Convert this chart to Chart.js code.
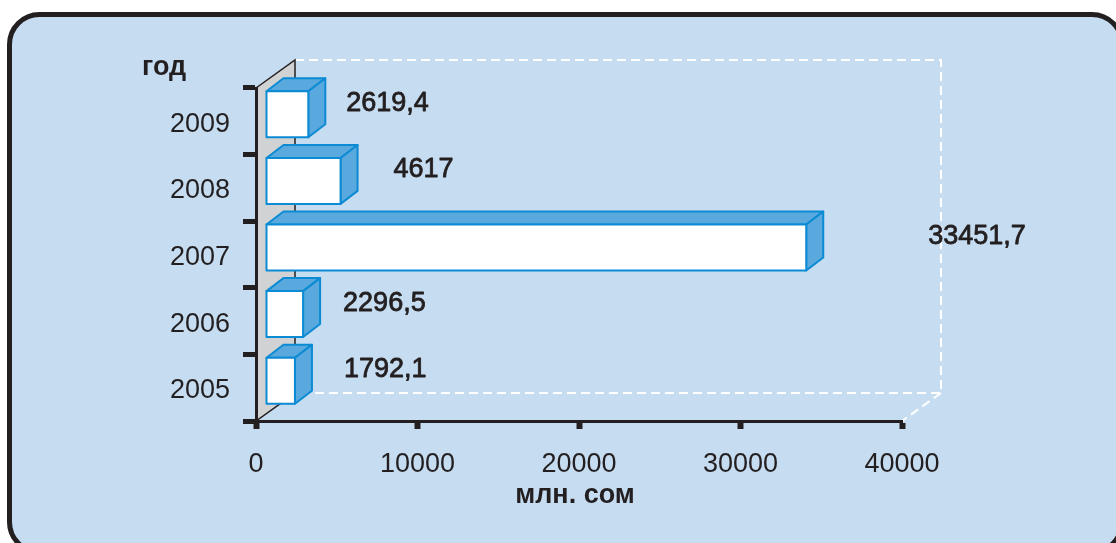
<!DOCTYPE html>
<html><head><meta charset="utf-8">
<script src="https://cdn.jsdelivr.net/npm/chart.js@4"></script>
<style>html,body{margin:0;padding:0;background:#fff;overflow:hidden}#wrap{width:1116px;height:543px;position:relative}canvas{display:block}</style>
</head><body><div id="wrap"><canvas id="c" width="1116" height="543" style="width:1116px;height:543px"></canvas></div>
<script>
// ---- data ----
const years = ['2005', '2006', '2007', '2008', '2009'];
const values = [1792.1, 2296.5, 33451.7, 4617, 2619.4];
const xTickMin = 0;
const xTickMax = 40000;
const xTickStep = 10000;
const yTitle = 'год';
const xTitle = 'млн. сом';

// ---- style ----
const INK = '#231f20';
const PANEL_FILL = '#c6dcf0';
const WALL_FILL = '#d1d2d4';
const BAR_EDGE = '#0b8bd3';
const BAR_SIDE = '#5aa9de';
const FONT = "'Liberation Sans', Arial, sans-serif";
const WALL = { dx: 39, dy: -28 };
const BAR_FRONT = { dx: 10, dy: -7 };
const BAR_DEPTH = { dx: 17, dy: -13 };
const LABEL_GAP = [32, 23, 105, 36, 21];

function poly(ctx, pts) {
  ctx.beginPath();
  ctx.moveTo(pts[0][0], pts[0][1]);
  for (let i = 1; i < pts.length; i++) ctx.lineTo(pts[i][0], pts[i][1]);
  ctx.closePath();
}

const scene = {
  id: 'scene',
  beforeDraw(chart) {
    const ctx = chart.ctx, a = chart.chartArea;
    ctx.save();
    // panel
    const px = 9.5, py = 14.5, pw = 1122 - 9.5, ph = 552 - 14.5, r = 30;
    ctx.beginPath();
    ctx.moveTo(px + r, py);
    ctx.lineTo(px + pw - r, py);
    ctx.arcTo(px + pw, py, px + pw, py + r, r);
    ctx.lineTo(px + pw, py + ph - r);
    ctx.arcTo(px + pw, py + ph, px + pw - r, py + ph, r);
    ctx.lineTo(px + r, py + ph);
    ctx.arcTo(px, py + ph, px, py + ph - r, r);
    ctx.lineTo(px, py + r);
    ctx.arcTo(px, py, px + r, py, r);
    ctx.closePath();
    ctx.fillStyle = PANEL_FILL;
    ctx.fill();
    ctx.lineWidth = 5;
    ctx.strokeStyle = INK;
    ctx.stroke();

    // back dashed frame
    ctx.setLineDash([9, 5]);
    ctx.strokeStyle = '#ffffff';
    ctx.lineWidth = 2;
    ctx.beginPath();
    ctx.moveTo(a.left + WALL.dx, a.top + WALL.dy);
    ctx.lineTo(a.right + WALL.dx, a.top + WALL.dy);
    ctx.lineTo(a.right + WALL.dx, a.bottom + WALL.dy);
    ctx.lineTo(a.left + WALL.dx, a.bottom + WALL.dy);
    ctx.moveTo(a.right + WALL.dx, a.bottom + WALL.dy);
    ctx.lineTo(a.right, a.bottom);
    ctx.stroke();
    ctx.setLineDash([]);

    // side wall
    poly(ctx, [[a.left, a.top], [a.left + WALL.dx, a.top + WALL.dy], [a.left + WALL.dx, a.bottom + WALL.dy], [a.left, a.bottom]]);
    ctx.fillStyle = WALL_FILL;
    ctx.fill();
    ctx.strokeStyle = INK;
    ctx.lineWidth = 1.5;
    ctx.stroke();

    // axis titles
    ctx.fillStyle = INK;
    ctx.font = 'bold 27px ' + FONT;
    ctx.textBaseline = 'alphabetic';
    ctx.textAlign = 'left';
    ctx.fillText(yTitle, 142, 75);
    ctx.textAlign = 'center';
    ctx.fillText(xTitle, (a.left + a.right) / 2 - 4, 503);
    ctx.restore();
  },
  afterDatasetsDraw(chart) {
    const ctx = chart.ctx;
    const meta = chart.getDatasetMeta(0);
    ctx.save();
    meta.data.forEach((el, i) => {
      const x0 = el.base + BAR_FRONT.dx, x1 = el.x + BAR_FRONT.dx;
      const yc = el.y + BAR_FRONT.dy, h = el.height;
      const y0 = yc - h / 2, y1 = yc + h / 2;
      const dx = BAR_DEPTH.dx, dy = BAR_DEPTH.dy;
      ctx.lineWidth = 2;
      ctx.lineJoin = 'round';
      ctx.strokeStyle = BAR_EDGE;
      ctx.fillStyle = BAR_SIDE;
      poly(ctx, [[x0, y0], [x0 + dx, y0 + dy], [x1 + dx, y0 + dy], [x1, y0]]);
      ctx.fill(); ctx.stroke();
      poly(ctx, [[x1, y0], [x1 + dx, y0 + dy], [x1 + dx, y1 + dy], [x1, y1]]);
      ctx.fill(); ctx.stroke();
      ctx.fillStyle = '#ffffff';
      ctx.beginPath();
      ctx.rect(x0, y0, x1 - x0, h);
      ctx.fill(); ctx.stroke();

      // value label
      const txt = String(values[i]).replace('.', ',');
      ctx.font = '27px ' + FONT;
      ctx.textAlign = 'left';
      ctx.textBaseline = 'middle';
      ctx.fillStyle = INK;
      ctx.strokeStyle = INK;
      ctx.lineWidth = 0.8;
      const lx = x1 + dx + LABEL_GAP[i], ly = el.y - 18;
      ctx.fillText(txt, lx, ly);
      ctx.strokeText(txt, lx, ly);
    });
    ctx.restore();
  }
};

new Chart(document.getElementById('c'), {
  type: 'bar',
  data: {
    labels: years,
    datasets: [{
      data: values,
      backgroundColor: 'rgba(0,0,0,0)',
      borderWidth: 0,
      categoryPercentage: 1,
      barPercentage: 0.69
    }]
  },
  options: {
    indexAxis: 'y',
    responsive: false,
    animation: false,
    layout: { padding: { left: 0, top: 88, right: 214, bottom: 0 } },
    plugins: { legend: { display: false }, tooltip: { enabled: false }, title: { display: false } },
    scales: {
      x: {
        min: xTickMin, max: xTickMax,
        ticks: { stepSize: xTickStep, color: INK, font: { family: FONT, size: 27 }, padding: 19, callback: v => String(v), maxRotation: 0 },
        grid: { drawOnChartArea: false, drawTicks: true, tickLength: 8, tickWidth: 6, tickColor: INK },
        border: { display: true, color: INK, width: 3 },
        afterFit: s => { s.height = 122; }
      },
      y: {
        reverse: true,
        ticks: { color: INK, font: { family: FONT, size: 27 }, padding: 13, labelOffset: 3 },
        grid: { drawOnChartArea: false, drawTicks: true, tickLength: 13, tickWidth: 5, tickColor: INK, offset: true },
        border: { display: true, color: INK, width: 3 },
        afterFit: s => { s.width = 256; }
      }
    }
  },
  plugins: [scene]
});
</script>
</body></html>
